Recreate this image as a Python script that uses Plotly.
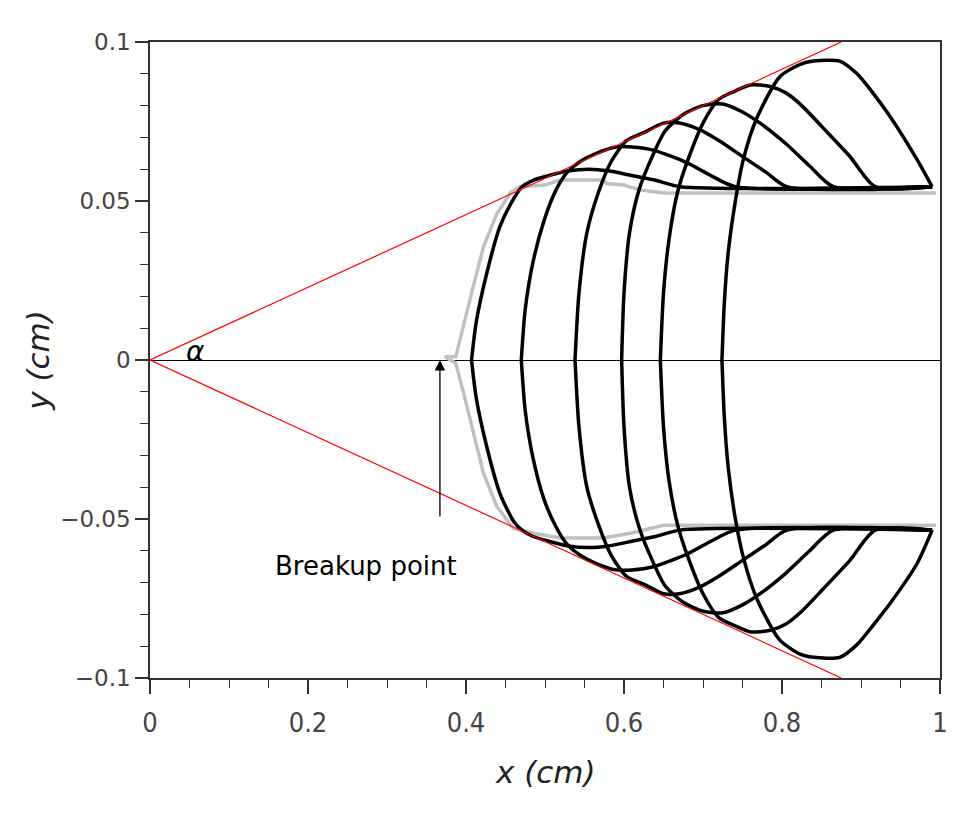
import plotly.graph_objects as go

# ---------------- data ----------------
# interface profiles (upper half: right end -> tip ; lower half: tip -> right end)
p1_top_x = [0.99, 0.671, 0.64, 0.61, 0.58, 0.555, 0.53, 0.505, 0.485, 0.471, 0.461, 0.443, 0.427, 0.413, 0.407]
p1_top_y = [0.0545, 0.0545, 0.0565, 0.058, 0.0595, 0.060, 0.0595, 0.058, 0.0565, 0.0545, 0.051, 0.042, 0.028, 0.012, 0.0]
p1_bot_x = [0.407, 0.413, 0.427, 0.443, 0.461, 0.471, 0.485, 0.505, 0.53, 0.555, 0.58, 0.61, 0.64, 0.671, 0.99]
p1_bot_y = [0.0, -0.012, -0.028, -0.042, -0.051, -0.0535, -0.0555, -0.057, -0.0585, -0.059, -0.0585, -0.057, -0.0555, -0.0535, -0.0535]

p2_top_x = [0.99, 0.741, 0.71, 0.68, 0.637, 0.61, 0.59, 0.565, 0.545, 0.528, 0.514, 0.499, 0.485, 0.475, 0.470]
p2_top_y = [0.0545, 0.0545, 0.058, 0.062, 0.066, 0.067, 0.067, 0.065, 0.0625, 0.059, 0.0535, 0.044, 0.031, 0.016, 0.0]
p2_bot_x = [0.470, 0.475, 0.485, 0.499, 0.514, 0.528, 0.545, 0.565, 0.59, 0.61, 0.637, 0.68, 0.71, 0.741, 0.99]
p2_bot_y = [0.0, -0.016, -0.031, -0.044, -0.0525, -0.058, -0.0615, -0.064, -0.066, -0.066, -0.065, -0.061, -0.057, -0.0535, -0.0535]

p3_top_x = [0.99, 0.806, 0.78, 0.75, 0.72, 0.695, 0.67, 0.65, 0.625, 0.603, 0.584, 0.568, 0.553, 0.543, 0.538]
p3_top_y = [0.0545, 0.0545, 0.059, 0.064, 0.069, 0.0725, 0.0745, 0.0745, 0.0715, 0.069, 0.0625, 0.053, 0.040, 0.021, 0.0]
p3_bot_x = [0.538, 0.543, 0.553, 0.568, 0.584, 0.603, 0.625, 0.65, 0.67, 0.695, 0.72, 0.75, 0.78, 0.806, 0.99]
p3_bot_y = [0.0, -0.021, -0.040, -0.052, -0.0615, -0.068, -0.0705, -0.0735, -0.0735, -0.0715, -0.068, -0.063, -0.058, -0.0535, -0.0535]

p4_top_x = [0.99, 0.865, 0.835, 0.805, 0.775, 0.75, 0.725, 0.70, 0.675, 0.652, 0.634, 0.619, 0.607, 0.600, 0.597]
p4_top_y = [0.0545, 0.0545, 0.061, 0.068, 0.074, 0.078, 0.0805, 0.080, 0.0772, 0.072, 0.063, 0.0535, 0.040, 0.021, 0.0]
p4_bot_x = [0.597, 0.600, 0.607, 0.619, 0.634, 0.652, 0.675, 0.70, 0.725, 0.75, 0.775, 0.805, 0.835, 0.865, 0.99]
p4_bot_y = [0.0, -0.021, -0.040, -0.0525, -0.062, -0.071, -0.0762, -0.079, -0.0795, -0.077, -0.073, -0.067, -0.060, -0.0535, -0.0535]

p5_top_x = [0.99, 0.918, 0.886, 0.852, 0.825, 0.805, 0.785, 0.76, 0.74, 0.72, 0.70, 0.681, 0.668, 0.657, 0.650, 0.646]
p5_top_y = [0.0545, 0.0545, 0.064, 0.073, 0.080, 0.084, 0.086, 0.0865, 0.0845, 0.082, 0.0745, 0.063, 0.053, 0.038, 0.021, 0.0]
p5_bot_x = [0.646, 0.650, 0.657, 0.668, 0.681, 0.70, 0.72, 0.74, 0.76, 0.785, 0.805, 0.825, 0.852, 0.886, 0.918, 0.99]
p5_bot_y = [0.0, -0.021, -0.038, -0.052, -0.062, -0.0735, -0.081, -0.0835, -0.0855, -0.085, -0.083, -0.079, -0.072, -0.063, -0.0535, -0.0535]

p6_top_x = [0.99, 0.971, 0.937, 0.915, 0.895, 0.873, 0.84, 0.823, 0.797, 0.768, 0.751, 0.741, 0.732, 0.727, 0.724]
p6_top_y = [0.0545, 0.063, 0.0765, 0.084, 0.090, 0.094, 0.094, 0.093, 0.089, 0.076, 0.063, 0.050, 0.034, 0.018, 0.0]
p6_bot_x = [0.724, 0.727, 0.732, 0.741, 0.751, 0.768, 0.797, 0.823, 0.84, 0.873, 0.895, 0.915, 0.937, 0.971, 0.99]
p6_bot_y = [0.0, -0.018, -0.034, -0.050, -0.062, -0.075, -0.088, -0.0925, -0.0935, -0.0935, -0.0895, -0.0835, -0.0765, -0.064, -0.0535]

# breakup profile (grey)
gray_top_x = [0.995, 0.65, 0.62, 0.60, 0.578, 0.574, 0.519, 0.50, 0.468, 0.456, 0.439, 0.422, 0.409, 0.397, 0.387, 0.373]
gray_top_y = [0.0525, 0.0525, 0.0535, 0.055, 0.0555, 0.0566, 0.0566, 0.055, 0.0545, 0.0525, 0.046, 0.0355, 0.023, 0.0104, 0.001, 0.001]
gray_bot_x = [0.387, 0.397, 0.409, 0.422, 0.439, 0.46, 0.485, 0.52, 0.574, 0.608, 0.65, 0.995]
gray_bot_y = [-0.001, -0.0104, -0.023, -0.0355, -0.046, -0.053, -0.0545, -0.056, -0.056, -0.0545, -0.052, -0.052]

# spray cone (half-angle alpha)
cone_x = [0.875, 0.0, 0.875]
cone_y = [0.1, 0.0, -0.1]

# breakup point arrow
breakup_x = 0.367
breakup_y = 0.0
breakup_tail_y = -0.0497

# ticks
x_tickvals = [0, 0.2, 0.4, 0.6, 0.8, 1]
x_ticktext = ["0", "0.2", "0.4", "0.6", "0.8", "1"]
y_tickvals = [-0.1, -0.05, 0, 0.05, 0.1]
y_ticktext = ["\u22120.1", "\u22120.05", "0", "0.05", "0.1"]

# ---------------- figure ----------------
fig = go.Figure()

fig.add_trace(go.Scatter(x=gray_top_x + gray_bot_x, y=gray_top_y + gray_bot_y,
                         mode="lines", line=dict(color="#c0c0c0", width=3.5),
                         hoverinfo="skip", showlegend=False))

profiles = [
    (p1_top_x, p1_top_y, p1_bot_x, p1_bot_y),
    (p2_top_x, p2_top_y, p2_bot_x, p2_bot_y),
    (p3_top_x, p3_top_y, p3_bot_x, p3_bot_y),
    (p4_top_x, p4_top_y, p4_bot_x, p4_bot_y),
    (p5_top_x, p5_top_y, p5_bot_x, p5_bot_y),
    (p6_top_x, p6_top_y, p6_bot_x, p6_bot_y),
]
for tx, ty, bx, by in profiles:
    fig.add_trace(go.Scatter(x=tx + bx, y=ty + by, mode="lines",
                             line=dict(color="black", width=3.5, shape="spline", smoothing=0.7),
                             hoverinfo="skip", showlegend=False))

fig.add_trace(go.Scatter(x=cone_x, y=cone_y, mode="lines",
                         line=dict(color="red", width=1.2),
                         hoverinfo="skip", showlegend=False))

text_font = "DejaVu Sans, Open Sans, sans-serif"

fig.add_annotation(x=breakup_x, y=breakup_y, ax=breakup_x, ay=breakup_tail_y,
                   xref="x", yref="y", axref="x", ayref="y",
                   showarrow=True, arrowhead=2, arrowsize=1.6, arrowwidth=1.3,
                   arrowcolor="black", text="")
fig.add_annotation(x=0.273, y=-0.0648, xref="x", yref="y", showarrow=False,
                   text="Breakup point", font=dict(family=text_font, size=26, color="black"))
fig.add_annotation(x=0.058, y=0.0028, xref="x", yref="y", showarrow=False,
                   text="<i>\u03b1</i>", font=dict(family=text_font, size=28, color="black"))

# axis titles
fig.add_annotation(x=0.5, y=-0.148, xref="paper", yref="paper", showarrow=False,
                   xanchor="center", yanchor="middle",
                   text="<i>x (cm)</i>", font=dict(family=text_font, size=31, color="#222"))
fig.add_annotation(x=-0.142, y=0.5, xref="paper", yref="paper", showarrow=False,
                   xanchor="center", yanchor="middle",
                   textangle=-90, text="<i>y (cm)</i>",
                   font=dict(family=text_font, size=31, color="#222"))

fig.update_xaxes(range=[0, 1], tickvals=x_tickvals, ticktext=x_ticktext,
                 ticks="outside", ticklen=14, tickwidth=1.5, tickcolor="#333",
                 minor=dict(dtick=0.05, ticks="outside", ticklen=8, tickwidth=1.2, tickcolor="#333"),
                 showline=True, linecolor="#333", linewidth=1.5, mirror=True,
                 showgrid=False, zeroline=False,
                 tickfont=dict(family="Liberation Sans Narrow, DejaVu Sans Condensed, Roboto Condensed, sans-serif",
                               size=27, color="#444"),
                 ticklabelstandoff=6)
fig.update_yaxes(range=[-0.1, 0.1], tickvals=y_tickvals, ticktext=y_ticktext,
                 ticks="outside", ticklen=13, tickwidth=1.5, tickcolor="#333",
                 minor=dict(dtick=0.01, ticks="outside", ticklen=8, tickwidth=1.2, tickcolor="#333"),
                 showline=True, linecolor="#333", linewidth=1.5, mirror=True,
                 showgrid=False, zeroline=True, zerolinecolor="black", zerolinewidth=1,
                 tickfont=dict(family=text_font, size=23, color="#444"),
                 ticklabelstandoff=0)

fig.update_layout(width=961, height=825,
                  margin=dict(l=150, r=21, t=42, b=147),
                  plot_bgcolor="white", paper_bgcolor="white",
                  showlegend=False)

fig.write_html("out.html")
